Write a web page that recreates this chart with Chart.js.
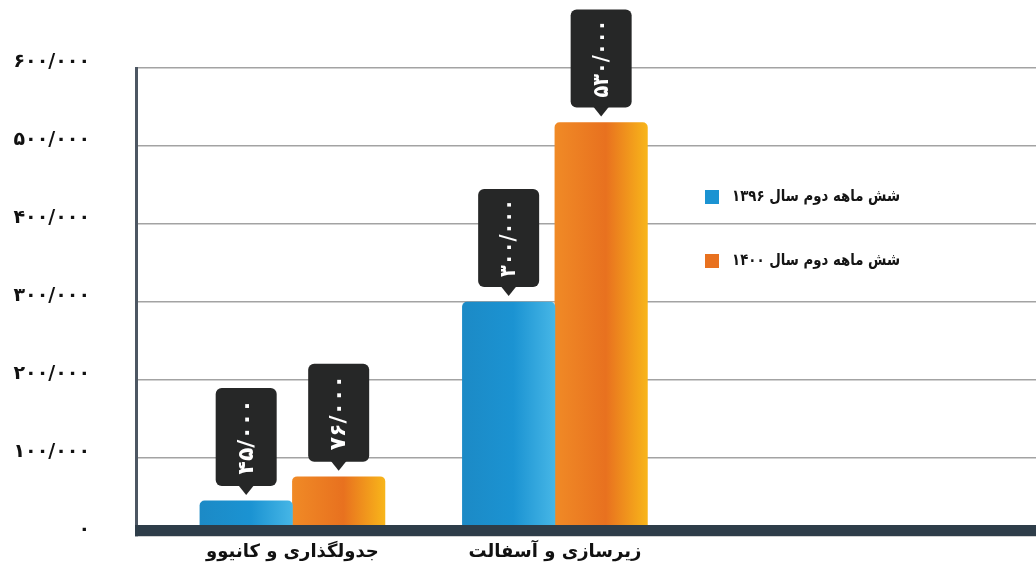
<!DOCTYPE html>
<html lang="fa">
<head>
<meta charset="utf-8">
<title>مقایسه عملکرد</title>
<script src="https://cdn.jsdelivr.net/npm/chart.js@4.4.1/dist/chart.umd.min.js"></script>
<style>
  html, body { margin: 0; padding: 0; background: #fff; overflow: hidden; }
  canvas { display: block; }
</style>
</head>
<body>
<canvas id="chart" width="1036" height="572"></canvas>
<script>
// ── Data ────────────────────────────────────────────────────────────
const CATEGORIES = ['جدولگذاری و کانیوو', 'زیرسازی و آسفالت'];
const SERIES_NAMES = ['شش ماهه دوم سال ۱۳۹۶', 'شش ماهه دوم سال ۱۴۰۰'];
const VALUES_1396 = [45000, 300000];
const VALUES_1400 = [76000, 530000];
const Y_TICKS = [0, 100000, 200000, 300000, 400000, 500000, 600000];

const BLUE = ['#1c8ac6', '#1b93d2', '#46b6e6'];
const ORANGE = ['#f08a26', '#e8711f', '#f8b51a'];
const FONT = '"DejaVu Sans", sans-serif';

const FA_DIGITS = '۰۱۲۳۴۵۶۷۸۹';
function faNum(v) {
  return Math.round(v).toLocaleString('en-US').replace(/,/g, '/').replace(/\d/g, d => FA_DIGITS[d]);
}

// ── Plugins ─────────────────────────────────────────────────────────
// horizontal gradient per bar, once positions are known
const barGradient = {
  id: 'barGradient',
  beforeDatasetsDraw(chart) {
    const ctx = chart.ctx;
    chart.data.datasets.forEach((ds, di) => {
      const stops = ds._stops;
      chart.getDatasetMeta(di).data.forEach(bar => {
        const half = bar.width / 2;
        const g = ctx.createLinearGradient(bar.x - half, 0, bar.x + half, 0);
        g.addColorStop(0, stops[0]);
        g.addColorStop(0.55, stops[1]);
        g.addColorStop(1, stops[2]);
        bar.options = Object.assign({}, bar.options, { backgroundColor: g });
      });
    });
  }
};

// dark strip along the base line
const baseStrip = {
  id: 'baseStrip',
  afterDatasetsDraw(chart) {
    const { ctx, chartArea } = chart;
    const y0 = chart.scales.y.getPixelForValue(0);
    ctx.save();
    ctx.fillStyle = '#2e3d49';
    ctx.fillRect(chartArea.left - 1, y0 - 11, chartArea.right - chartArea.left + 1, 11);
    ctx.restore();
  }
};

// value callouts above bars, text rotated
const callouts = {
  id: 'callouts',
  afterDatasetsDraw(chart) {
    const ctx = chart.ctx;
    const w = 61, h = 98, tip = 9, gap = 6, r = 6;
    chart.data.datasets.forEach((ds, di) => {
      chart.getDatasetMeta(di).data.forEach((bar, i) => {
        const cx = bar.x;
        const bottom = bar.y - gap - tip;
        const top = bottom - h;
        const left = cx - w / 2;
        ctx.save();
        ctx.fillStyle = '#262727';
        ctx.beginPath();
        ctx.roundRect(left, top, w, h, r);
        ctx.fill();
        ctx.beginPath();
        ctx.moveTo(cx - 8, bottom - 1);
        ctx.lineTo(cx + 8, bottom - 1);
        ctx.lineTo(cx, bottom + tip);
        ctx.closePath();
        ctx.fill();
        ctx.translate(cx, top + h / 2);
        ctx.rotate(-Math.PI / 2);
        ctx.fillStyle = '#ffffff';
        ctx.font = 'bold 22px ' + FONT;
        ctx.textAlign = 'center';
        ctx.textBaseline = 'middle';
        ctx.direction = 'ltr';
        ctx.fillText(faNum(ds.data[i].y), 0, 1, h - 20);
        ctx.restore();
      });
    });
  }
};

// legend drawn inside the plot
const insideLegend = {
  id: 'insideLegend',
  afterDraw(chart) {
    const ctx = chart.ctx;
    const rows = [197, 261];
    chart.data.datasets.forEach((ds, di) => {
      const y = rows[di];
      ctx.save();
      ctx.fillStyle = ds._stops[1];
      ctx.fillRect(705, y - 7, 14, 14);
      ctx.fillStyle = '#151515';
      ctx.font = 'bold 16px ' + FONT;
      ctx.textAlign = 'right';
      ctx.textBaseline = 'middle';
      ctx.direction = 'rtl';
      ctx.fillText(ds.label, 900, y, 168);
      ctx.restore();
    });
  }
};

// ── Chart ───────────────────────────────────────────────────────────
const toPoints = vals => vals.map((v, i) => ({ x: i + 1, y: v }));

new Chart(document.getElementById('chart'), {
  type: 'bar',
  data: {
    datasets: [
      { label: SERIES_NAMES[0], data: toPoints(VALUES_1396), backgroundColor: BLUE[1], _stops: BLUE },
      { label: SERIES_NAMES[1], data: toPoints(VALUES_1400), backgroundColor: ORANGE[1], _stops: ORANGE },
    ]
  },
  options: {
    responsive: false,
    animation: false,
    devicePixelRatio: 1,
    layout: { padding: { top: 68, right: 0, bottom: 6, left: 0 } },
    datasets: {
      bar: { barThickness: 92.5, borderRadius: { topLeft: 5, topRight: 5 }, borderSkipped: 'bottom' }
    },
    plugins: {
      legend: { display: false },
      tooltip: { enabled: false }
    },
    scales: {
      x: {
        type: 'linear',
        offset: false,
        min: 0.404,
        max: 3.833,
        grid: { display: false, offset: false, drawTicks: false },
        border: { display: false },
        afterBuildTicks: axis => { axis.ticks = CATEGORIES.map((c, i) => ({ value: i + 1 })); },
        afterFit: axis => { axis.height = 30; },
        ticks: {
          autoSkip: false,
          maxRotation: 0,
          padding: 6,
          color: '#111',
          font: { family: FONT, size: 18, weight: 'bold' },
          callback: v => CATEGORIES[v - 1] || ''
        }
      },
      y: {
        min: 0,
        max: 600000,
        afterBuildTicks: axis => { axis.ticks = Y_TICKS.map(v => ({ value: v })); },
        // tick padding is horizontal here; keep it from eating vertical room
        afterFit: axis => { axis.width = 136; axis.paddingTop = 10; axis.paddingBottom = 10; },
        grid: { color: '#a3a3a3', lineWidth: 1.6, drawTicks: false },
        border: { color: '#4d5763', width: 3 },
        ticks: {
          padding: 46,
          labelOffset: -6,
          color: '#111',
          font: { family: FONT, size: 19, weight: 'bold' },
          callback: v => faNum(v)
        }
      }
    }
  },
  plugins: [barGradient, baseStrip, callouts, insideLegend]
});
</script>
</body>
</html>
